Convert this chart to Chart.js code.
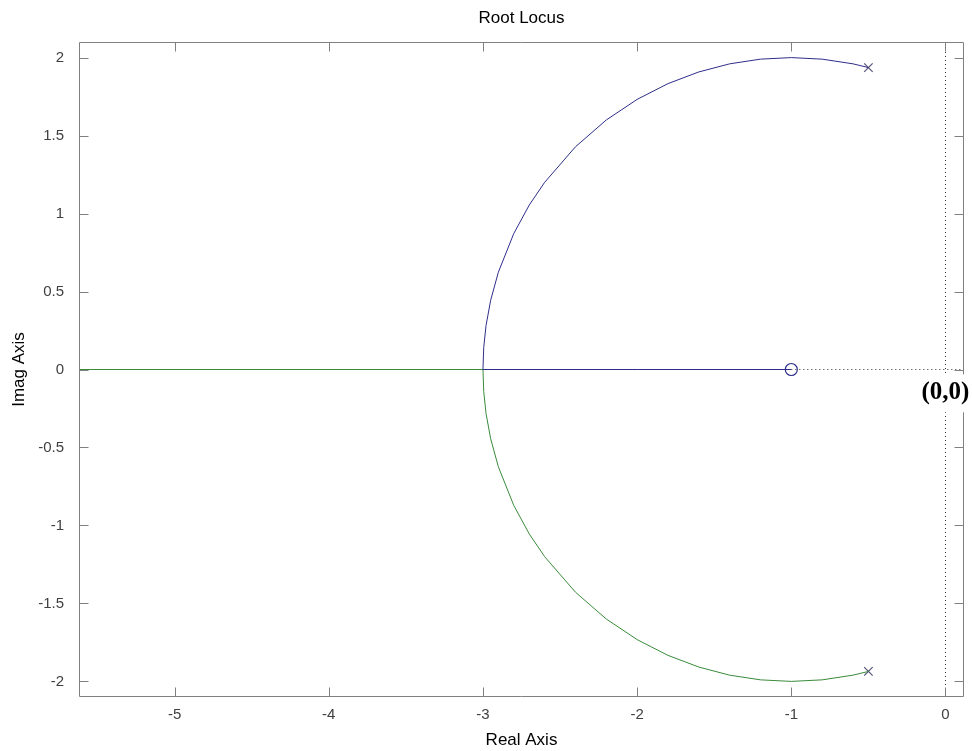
<!DOCTYPE html>
<html>
<head>
<meta charset="utf-8">
<title>Root Locus</title>
<script src="https://cdn.jsdelivr.net/npm/chart.js@4.4.1/dist/chart.umd.min.js"></script>
<style>
  html, body { margin: 0; padding: 0; background: #fff; }
  #wrap { width: 972px; height: 751px; }
</style>
</head>
<body>
<div id="wrap"><canvas id="rootLocus" width="972" height="751"></canvas></div>
<script>
// root locus branches (circle around -1, radius 2)
const upperRe = [-0.5, -0.6, -0.8, -1.0, -1.2, -1.4, -1.6, -1.8, -2.0, -2.2, -2.4, -2.6, -2.7, -2.8, -2.9, -2.95, -2.98, -2.995, -3.0, -2.0, -1.0];
const upperIm = [1.936, 1.960, 1.990, 2.0, 1.990, 1.960, 1.908, 1.833, 1.732, 1.6, 1.428, 1.2, 1.054, 0.872, 0.624, 0.444, 0.282, 0.141, 0, 0, 0];
const lowerRe = [-0.5, -0.6, -0.8, -1.0, -1.2, -1.4, -1.6, -1.8, -2.0, -2.2, -2.4, -2.6, -2.7, -2.8, -2.9, -2.95, -2.98, -2.995, -3.0, -6.0];
const lowerIm = [-1.936, -1.960, -1.990, -2.0, -1.990, -1.960, -1.908, -1.833, -1.732, -1.6, -1.428, -1.2, -1.054, -0.872, -0.624, -0.444, -0.282, -0.141, 0, 0];

// poler og nulpunkt
const poleRe = [-0.5, -0.5];
const poleIm = [1.936, -1.936];
const zeroRe = [-1];
const zeroIm = [0];

// stiplede hjælpelinjer
const vGuideRe = [0, 0];
const vGuideIm = [-2.1, 2.1];
const hGuideRe = [-1, 0.12];
const hGuideIm = [0, 0];

// akser
const xTicks = [-5, -4, -3, -2, -1, 0];
const yTicks = [-2, -1.5, -1, -0.5, 0, 0.5, 1, 1.5, 2];
const xRange = [-5.62, 0.12];
const yRange = [-2.1, 2.1];

// tekst ved origo
const originText = '(0,0)';
const originPos = { x: 0, y: -0.14 };

const pts = (xs, ys) => xs.map((x, i) => ({ x, y: ys[i] }));

const SANS = '"Liberation Sans", Arial, Helvetica, sans-serif';
const AXIS_GREY = '#808080';

// ramme + indadvendte ticks i MATLAB-stil
const framePlugin = {
    id: 'frame',
    afterDatasetsDraw(chart) {
        const { ctx, chartArea: a, scales: { x, y } } = chart;
        const L = Math.round(a.left) + 0.5, R = Math.round(a.right) - 0.5;
        const T = Math.round(a.top) + 0.5, B = Math.round(a.bottom) - 0.5;
        const len = 9;
        ctx.save();
        ctx.strokeStyle = AXIS_GREY;
        ctx.lineWidth = 1;
        ctx.beginPath();
        ctx.rect(L, T, R - L, B - T);
        xTicks.forEach(v => {
            const px = Math.round(x.getPixelForValue(v)) + 0.5;
            ctx.moveTo(px, B); ctx.lineTo(px, B - len);
            ctx.moveTo(px, T); ctx.lineTo(px, T + len);
        });
        yTicks.forEach(v => {
            const py = Math.round(y.getPixelForValue(v)) + 0.5;
            ctx.moveTo(L, py); ctx.lineTo(L + len, py);
            ctx.moveTo(R, py); ctx.lineTo(R - len, py);
        });
        ctx.stroke();
        ctx.restore();
    },
    afterDraw(chart) {
        const { ctx, scales: { x, y } } = chart;
        const cx = x.getPixelForValue(originPos.x);
        const cy = y.getPixelForValue(originPos.y);
        ctx.save();
        ctx.font = 'bold 25px "Liberation Serif", "Times New Roman", serif';
        const w = ctx.measureText(originText).width;
        ctx.fillStyle = '#fff';
        ctx.fillRect(cx - w / 2 - 3, cy - 17, w + 6, 38);
        ctx.fillStyle = '#000';
        ctx.textAlign = 'center';
        ctx.textBaseline = 'middle';
        ctx.fillText(originText, cx, cy + 1);
        ctx.restore();
    }
};

const ctx = document.getElementById('rootLocus').getContext('2d');

new Chart(ctx, {
    type: 'scatter',
    data: {
        datasets: [
            {
                label: 'gren 1',
                data: pts(upperRe, upperIm),
                showLine: true,
                borderColor: '#2e2e8a',
                borderWidth: 1,
                pointRadius: 0,
                tension: 0
            },
            {
                label: 'gren 2',
                data: pts(lowerRe, lowerIm),
                showLine: true,
                borderColor: '#3a8a3a',
                borderWidth: 1,
                pointRadius: 0,
                tension: 0
            },
            {
                label: 'guide v',
                data: pts(vGuideRe, vGuideIm),
                showLine: true,
                borderColor: '#333',
                borderWidth: 1,
                borderDash: [1, 3],
                pointRadius: 0
            },
            {
                label: 'guide h',
                data: pts(hGuideRe, hGuideIm),
                showLine: true,
                borderColor: '#333',
                borderWidth: 1,
                borderDash: [1, 3],
                pointRadius: 0
            },
            {
                label: 'poler',
                data: pts(poleRe, poleIm),
                showLine: false,
                pointStyle: 'crossRot',
                pointRadius: 6,
                pointBorderColor: '#55557a',
                pointBorderWidth: 1.2
            },
            {
                label: 'nulpunkt',
                data: pts(zeroRe, zeroIm),
                showLine: false,
                pointStyle: 'circle',
                pointRadius: 6,
                pointBorderColor: '#2e2e8a',
                pointBackgroundColor: '#fff',
                pointBorderWidth: 1.2
            }
        ]
    },
    options: {
        responsive: false,
        animation: false,
        layout: { padding: { top: 0, right: 8, bottom: 0, left: 0 } },
        plugins: {
            legend: { display: false },
            tooltip: { enabled: false },
            title: {
                display: true,
                text: 'Root Locus',
                color: '#000',
                fullSize: false,
                font: { family: SANS, size: 17, weight: 'normal' },
                padding: { top: 8, bottom: 13.6 }
            }
        },
        scales: {
            x: {
                type: 'linear',
                min: xRange[0],
                max: xRange[1],
                grid: { display: false },
                border: { display: false },
                afterBuildTicks: s => { s.ticks = xTicks.map(value => ({ value })); },
                afterFit: s => { s.height = 54; },
                ticks: {
                    color: '#404040',
                    font: { family: SANS, size: 15 },
                    padding: 1,
                    maxRotation: 0,
                    autoSkip: false,
                    callback: v => `${v}`
                },
                title: {
                    display: true,
                    text: 'Real Axis',
                    color: '#000',
                    font: { family: SANS, size: 17 },
                    padding: { top: 0, bottom: 0 }
                }
            },
            y: {
                type: 'linear',
                min: yRange[0],
                max: yRange[1],
                grid: { display: false },
                border: { display: false },
                afterBuildTicks: s => { s.ticks = yTicks.map(value => ({ value })); },
                afterFit: s => { s.width = 79; },
                ticks: {
                    color: '#404040',
                    font: { family: SANS, size: 15 },
                    padding: 7,
                    autoSkip: false,
                    callback: v => `${v}`
                },
                title: {
                    display: true,
                    text: 'Imag Axis',
                    color: '#000',
                    font: { family: SANS, size: 17 },
                    padding: { top: 9, bottom: 0 }
                }
            }
        }
    },
    plugins: [framePlugin]
});
</script>
</body>
</html>
